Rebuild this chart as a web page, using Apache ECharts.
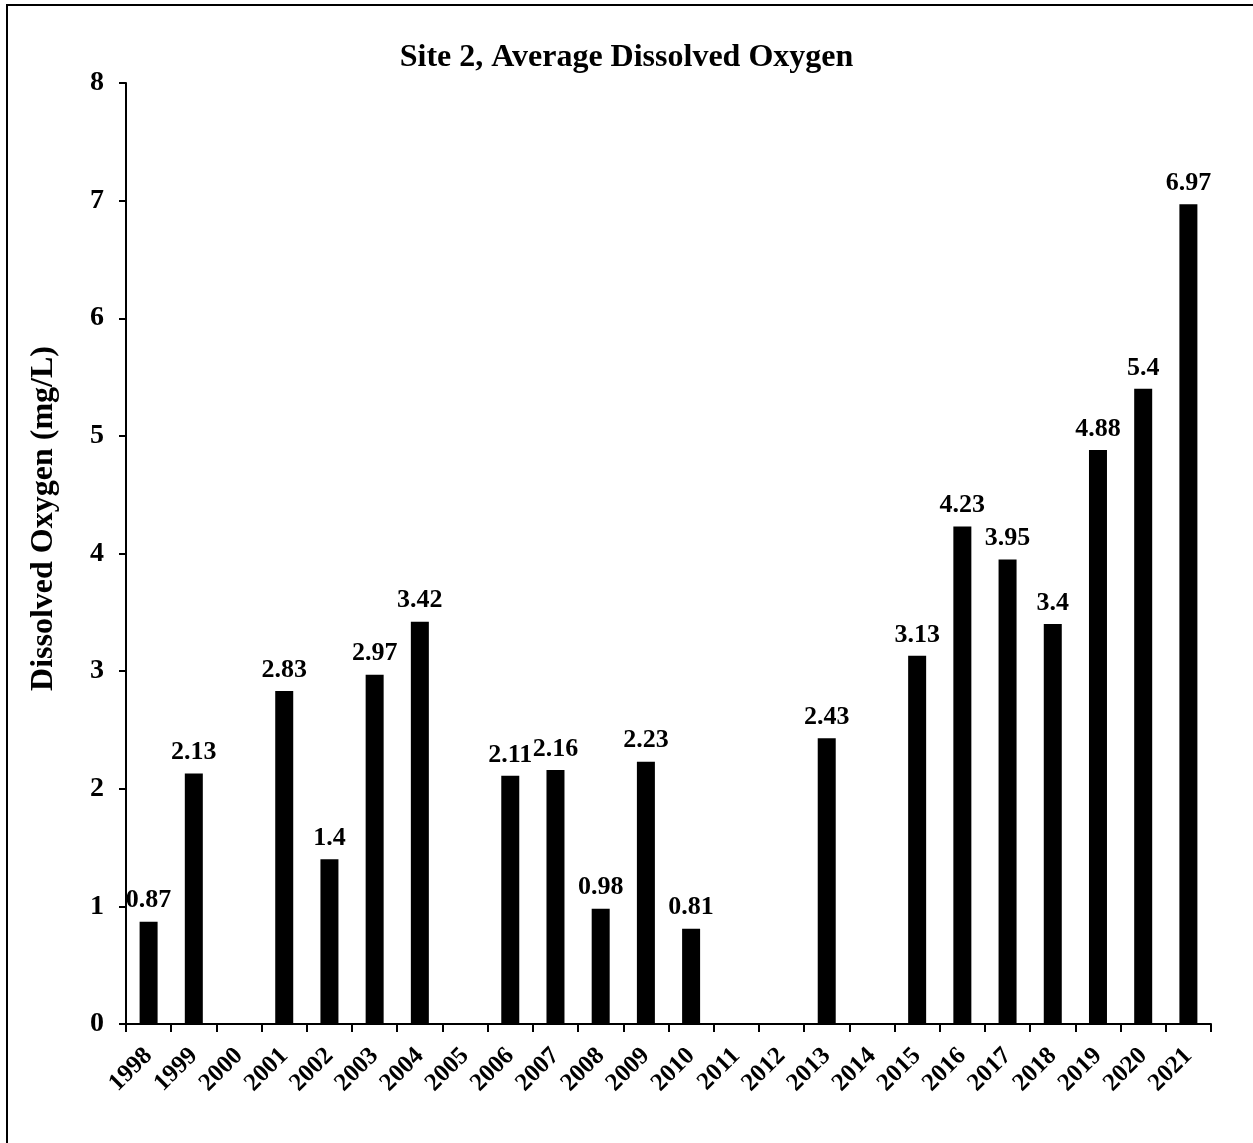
<!DOCTYPE html>
<html>
<head>
<meta charset="utf-8">
<script src="https://cdn.jsdelivr.net/npm/echarts@6/dist/echarts.min.js"></script>
<style>
  html, body { margin: 0; padding: 0; background: #fff; }
  #main { width: 1253px; height: 1143px; }
</style>
</head>
<body>
<div id="main"></div>
<script>
// data
var years = ['1998', '1999', '2000', '2001', '2002', '2003', '2004', '2005', '2006', '2007', '2008', '2009',
             '2010', '2011', '2012', '2013', '2014', '2015', '2016', '2017', '2018', '2019', '2020', '2021'];
var oxygen = [0.87, 2.13, null, 2.83, 1.4, 2.97, 3.42, null, 2.11, 2.16, 0.98, 2.23,
              0.81, null, null, 2.43, null, 3.13, 4.23, 3.95, 3.4, 4.88, 5.4, 6.97];
var yTicks = [0, 1, 2, 3, 4, 5, 6, 7, 8];

var serif = '"Liberation Serif", "Times New Roman", serif';

var myChart = echarts.init(document.getElementById('main'));

var option = {
    backgroundColor: '#fff',
    animation: false,
    textStyle: { fontFamily: serif, color: '#000' },
    title: {
        text: 'Site 2, Average Dissolved Oxygen',
        left: 'center',
        top: 37,
        textStyle: { fontFamily: serif, fontSize: 32, fontWeight: 'bold', color: '#000' }
    },
    // outer frame, only left & top edges show in the picture
    graphic: [{
        type: 'rect',
        shape: { x: 7, y: 5, width: 1300, height: 1200 },
        style: { fill: 'none', stroke: '#000', lineWidth: 2 }
    }],
    grid: {
        left: 126,
        top: 83,
        right: 42,
        bottom: 119
    },
    xAxis: {
        type: 'category',
        data: years,
        boundaryGap: true,
        axisLine: { lineStyle: { color: '#000', width: 2 } },
        axisTick: { show: true, length: 8, lineStyle: { color: '#000', width: 2 } },
        axisLabel: {
            rotate: 45,
            interval: 0,
            margin: 28,
            fontFamily: serif,
            fontSize: 25,
            fontWeight: 'bold',
            color: '#000'
        }
    },
    yAxis: {
        type: 'value',
        min: yTicks[0],
        max: yTicks[yTicks.length - 1],
        interval: 1,
        name: 'Dissolved Oxygen (mg/L)',
        nameLocation: 'middle',
        nameGap: 66,
        nameTextStyle: {
            fontFamily: serif, fontSize: 32, fontWeight: 'bold', color: '#000',
            padding: [0, 0, 0, 70]   // nudges the title up a bit, as in the original
        },
        axisLine: { show: true, lineStyle: { color: '#000', width: 2 } },
        axisTick: { show: true, length: 7, lineStyle: { color: '#000', width: 2 } },
        splitLine: { show: false },
        axisLabel: {
            margin: 22,
            fontFamily: serif,
            fontSize: 28,
            fontWeight: 'bold',
            color: '#000'
        }
    },
    series: [{
        type: 'bar',
        data: oxygen,
        barWidth: 18,
        itemStyle: { color: '#000' },
        label: {
            show: true,
            position: 'top',
            distance: 8,
            fontFamily: serif,
            fontSize: 26,
            fontWeight: 'bold',
            color: '#000'
        }
    }]
};

myChart.setOption(option);
</script>
</body>
</html>
